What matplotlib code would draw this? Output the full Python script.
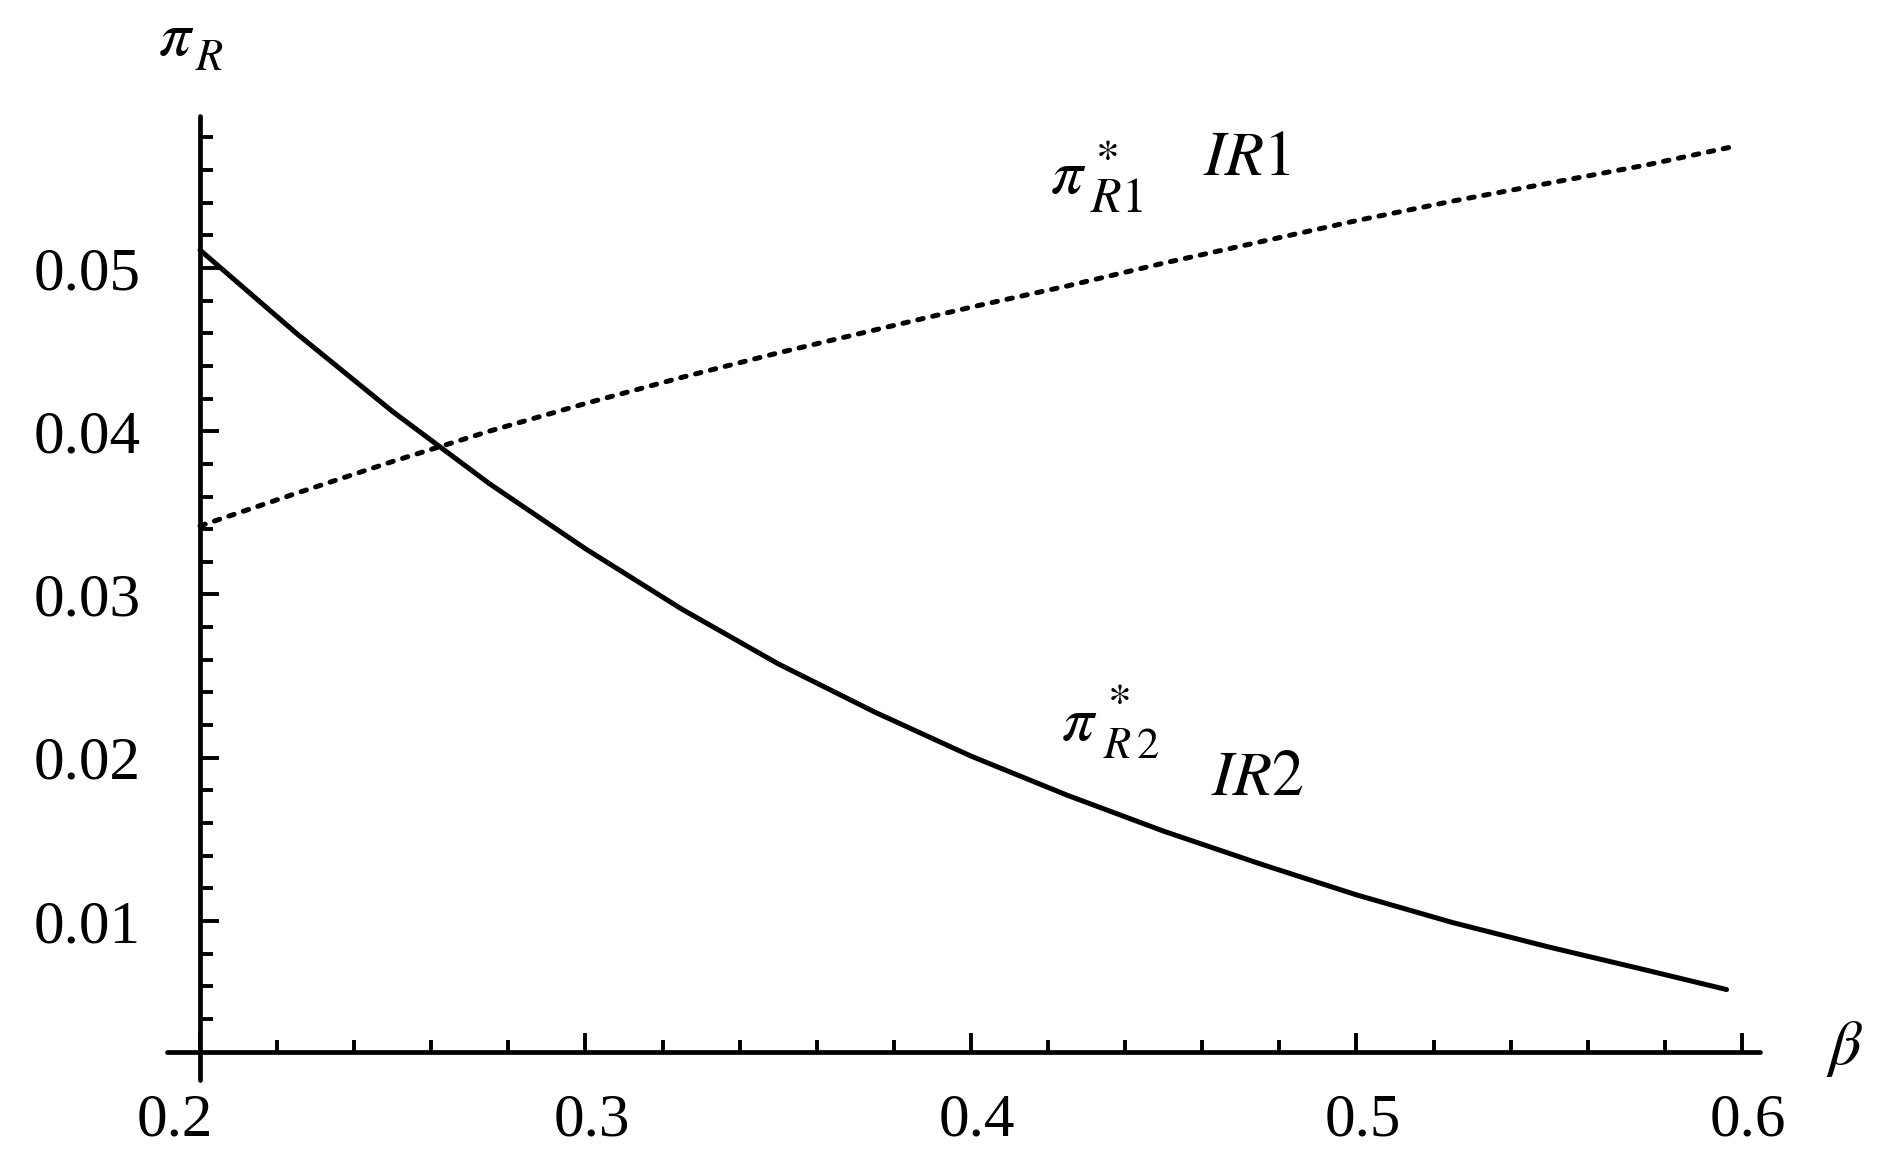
import matplotlib
matplotlib.use("Agg")
import matplotlib.pyplot as plt
from matplotlib.ticker import FixedLocator
from matplotlib.transforms import ScaledTranslation

# ---- data ----
beta_R2 = [0.200, 0.225, 0.250, 0.275, 0.300, 0.325, 0.350, 0.375, 0.400,
           0.425, 0.450, 0.475, 0.500, 0.525, 0.550, 0.575, 0.596]
pi_R2 = [0.0511, 0.0460, 0.0412, 0.0368, 0.0328, 0.0291, 0.02575, 0.0228, 0.0201,
         0.0177, 0.0155, 0.0135, 0.0116, 0.0099, 0.0084, 0.0070, 0.0058]

beta_R1 = [0.200, 0.225, 0.250, 0.275, 0.300, 0.325, 0.350, 0.375, 0.400,
           0.425, 0.450, 0.475, 0.500, 0.525, 0.550, 0.575, 0.597]
pi_R1 = [0.0342, 0.0362, 0.03815, 0.0400, 0.0417, 0.0433, 0.0448, 0.0462, 0.0476,
         0.0489, 0.0503, 0.0516, 0.0529, 0.0541, 0.0552, 0.0563, 0.0574]

x_major = [0.2, 0.3, 0.4, 0.5, 0.6]
x_major_labels = ["0.2", "0.3", "0.4", "0.5", "0.6"]
y_major = [0.01, 0.02, 0.03, 0.04, 0.05]
y_major_labels = ["0.01", "0.02", "0.03", "0.04", "0.05"]
x_minor = [0.22, 0.24, 0.26, 0.28, 0.32, 0.34, 0.36, 0.38, 0.42, 0.44, 0.46, 0.48,
           0.52, 0.54, 0.56, 0.58]
y_minor = [0.004, 0.006, 0.008, 0.012, 0.014, 0.016, 0.018, 0.022, 0.024, 0.026, 0.028,
           0.032, 0.034, 0.036, 0.038, 0.042, 0.044, 0.046, 0.048, 0.052, 0.054, 0.056, 0.058]

# ---- style ----
plt.rcParams["font.family"] = ["Liberation Serif", "DejaVu Serif"]
plt.rcParams["mathtext.fontset"] = "stix"

W, H = 1896, 1176
fig = plt.figure(figsize=(W / 100, H / 100), dpi=100)
L, R, T, B = 167, 1760, 116, 1080
ax = fig.add_axes([L / W, 1 - B / H, (R - L) / W, (B - T) / H])
ax.set_xlim(0.19144, 0.60467)
ax.set_ylim(0.00026, 0.05931)

ax.spines["top"].set_visible(False)
ax.spines["right"].set_visible(False)
ax.spines["left"].set_position(("data", 0.2))
ax.spines["bottom"].set_position(("data", 0.002))
for s in ("left", "bottom"):
    ax.spines[s].set_linewidth(3.4)
    ax.spines[s].set_capstyle("round")

ax.plot(beta_R2, pi_R2, color="black", lw=3.6, solid_capstyle="round",
        solid_joinstyle="round", zorder=3)
ax.plot(beta_R1, pi_R1, color="black", lw=3.6, dashes=(1.1, 1.95),
        dash_capstyle="round", zorder=3)

ax.xaxis.set_major_locator(FixedLocator(x_major))
ax.xaxis.set_minor_locator(FixedLocator(x_minor))
ax.yaxis.set_major_locator(FixedLocator(y_major))
ax.yaxis.set_minor_locator(FixedLocator(y_minor))
ax.set_xticklabels(x_major_labels)
ax.set_yticklabels(y_major_labels)

ax.tick_params(axis="both", which="both", direction="in", width=2.8, color="black")
ax.tick_params(axis="both", which="major", length=14, labelsize=44)
ax.tick_params(axis="both", which="minor", length=9)
ax.tick_params(axis="x", which="major", pad=30)
ax.tick_params(axis="y", which="major", pad=43)
for ln in ax.xaxis.get_ticklines(minor=True) + ax.xaxis.get_ticklines() + \
        ax.yaxis.get_ticklines(minor=True) + ax.yaxis.get_ticklines():
    ln.set_solid_capstyle("round")

for i, lab in enumerate(ax.get_xticklabels()):
    dx = -25 / 100 if i == 0 else 6 / 100
    lab.set_transform(lab.get_transform() + ScaledTranslation(dx, 0, fig.dpi_scale_trans))


def ftext(x, y, s, size=44, va="baseline"):
    fig.text(x / W, 1 - y / H, s, fontsize=size, ha="left", va=va)


# axis labels
ftext(158, 55, r"$\pi$", 46)
ftext(195, 70, r"$R$", 32)
ftext(1826, 1064, r"$\beta$", 46)

# curve labels
ftext(1050, 193, r"$\pi$", 46)
ftext(1095, 138, r"$*$", 34, va="top")
ftext(1090, 212, r"$R1$", 36)
ftext(1203, 175, r"$IR1$", 46)

ftext(1061, 740, r"$\pi$", 46)
ftext(1107, 682, r"$*$", 34, va="top")
ftext(1103, 758, r"$R\,2$", 32)
ftext(1211, 795, r"$IR2$", 46)

fig.savefig("out.png", dpi=100)
